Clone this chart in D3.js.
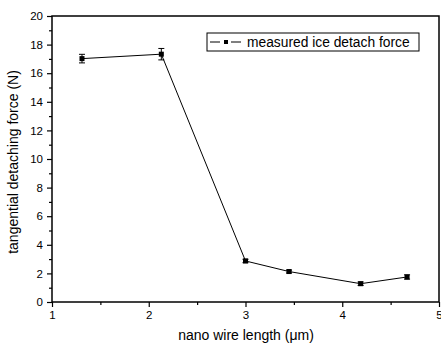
<!DOCTYPE html>
<html>
<head>
<meta charset="utf-8">
<script src="https://cdn.jsdelivr.net/npm/d3@7"></script>
<style>
body { margin: 0; background: #fff; }
text { font-family: Arial, "Liberation Sans", sans-serif; fill: #000; }
</style>
</head>
<body>
<script>
var width = 441;
var height = 344;

// nano wire length (um) vs force (N)
var lengths = [1.31, 2.13, 3.0, 3.45, 4.19, 4.67];
var forces = [17.02, 17.33, 2.87, 2.13, 1.28, 1.75];
var errors = [0.3, 0.4, 0.12, 0.1, 0.12, 0.15];
var xTicks = [1, 2, 3, 4, 5];
var yTicks = [0, 2, 4, 6, 8, 10, 12, 14, 16, 18, 20];

var plotLeft = 52, plotRight = 439, plotTop = 16, plotBottom = 302;

var svg = d3.select("body")
            .append("svg")
            .attr("width", width)
            .attr("height", height);

var x = d3.scaleLinear().domain([1, 5]).range([plotLeft, plotRight]);
var y = d3.scaleLinear().domain([0, 20]).range([plotBottom, plotTop]);

// minor ticks
var xMinor = d3.range(1.5, 5, 1);
var yMinor = d3.range(1, 20, 2);

svg.append("g")
  .attr("transform", "translate(0," + plotBottom + ")")
  .call(d3.axisBottom(x).tickValues(xMinor).tickSize(3).tickFormat(""))
  .call(function(g) { g.select(".domain").remove(); });

svg.append("g")
  .attr("transform", "translate(" + plotLeft + ",0)")
  .call(d3.axisLeft(y).tickValues(yMinor).tickSize(3).tickFormat(""))
  .call(function(g) { g.select(".domain").remove(); });

var xAxis = svg.append("g")
  .attr("transform", "translate(0," + plotBottom + ")")
  .call(d3.axisBottom(x).tickValues(xTicks).tickSize(5).tickPadding(4).tickFormat(d3.format("d")));
xAxis.select(".domain").remove();
xAxis.selectAll("text").style("font-size", "11.5px");

var yAxis = svg.append("g")
  .attr("transform", "translate(" + plotLeft + ",0)")
  .call(d3.axisLeft(y).tickValues(yTicks).tickSize(5).tickPadding(4));
yAxis.select(".domain").remove();
yAxis.selectAll("text").style("font-size", "11.5px");

svg.selectAll(".tick line").attr("stroke", "#000").attr("stroke-width", 1.2);

// frame
svg.append("rect")
  .attr("x", plotLeft).attr("y", plotTop)
  .attr("width", plotRight - plotLeft).attr("height", plotBottom - plotTop)
  .attr("fill", "none").attr("stroke", "#000").attr("stroke-width", 1.5);

var pts = lengths.map(function(d, i) { return { x: d, y: forces[i], e: errors[i] }; });

svg.append("path")
  .datum(pts)
  .attr("fill", "none")
  .attr("stroke", "#000")
  .attr("stroke-width", 1)
  .attr("d", d3.line().x(function(d) { return x(d.x); }).y(function(d) { return y(d.y); }));

var eb = svg.append("g").attr("stroke", "#000").attr("stroke-width", 1);
eb.selectAll(".ev").data(pts).enter().append("line")
  .attr("x1", function(d) { return x(d.x); }).attr("x2", function(d) { return x(d.x); })
  .attr("y1", function(d) { return y(d.y - d.e); }).attr("y2", function(d) { return y(d.y + d.e); });
eb.selectAll(".et").data(pts).enter().append("line")
  .attr("x1", function(d) { return x(d.x) - 3; }).attr("x2", function(d) { return x(d.x) + 3; })
  .attr("y1", function(d) { return y(d.y + d.e); }).attr("y2", function(d) { return y(d.y + d.e); });
eb.selectAll(".eb").data(pts).enter().append("line")
  .attr("x1", function(d) { return x(d.x) - 3; }).attr("x2", function(d) { return x(d.x) + 3; })
  .attr("y1", function(d) { return y(d.y - d.e); }).attr("y2", function(d) { return y(d.y - d.e); });

svg.selectAll(".pt").data(pts).enter().append("rect")
  .attr("x", function(d) { return x(d.x) - 2.5; })
  .attr("y", function(d) { return y(d.y) - 2.5; })
  .attr("width", 5).attr("height", 5)
  .attr("fill", "#000");

// legend
var lg = svg.append("g");
lg.append("rect").attr("x", 207).attr("y", 33).attr("width", 212).attr("height", 18)
  .attr("fill", "#fff").attr("stroke", "#000").attr("stroke-width", 1);
lg.append("line").attr("x1", 210).attr("x2", 220).attr("y1", 42).attr("y2", 42)
  .attr("stroke", "#000").attr("stroke-width", 1);
lg.append("line").attr("x1", 231).attr("x2", 241).attr("y1", 42).attr("y2", 42)
  .attr("stroke", "#000").attr("stroke-width", 1);
lg.append("rect").attr("x", 224).attr("y", 40).attr("width", 4).attr("height", 4).attr("fill", "#000");
lg.append("text").attr("x", 247).attr("y", 47).style("font-size", "13.8px")
  .text("measured ice detach force");

// axis titles
svg.append("text")
  .attr("x", 246).attr("y", 340)
  .attr("text-anchor", "middle").style("font-size", "14px")
  .text("nano wire length (\u03bcm)");

svg.append("text")
  .attr("transform", "translate(18," + ((plotTop + plotBottom) / 2 + 3) + ") rotate(-90)")
  .attr("text-anchor", "middle").style("font-size", "14px")
  .text("tangential detaching force (N)");
</script>
</body>
</html>
